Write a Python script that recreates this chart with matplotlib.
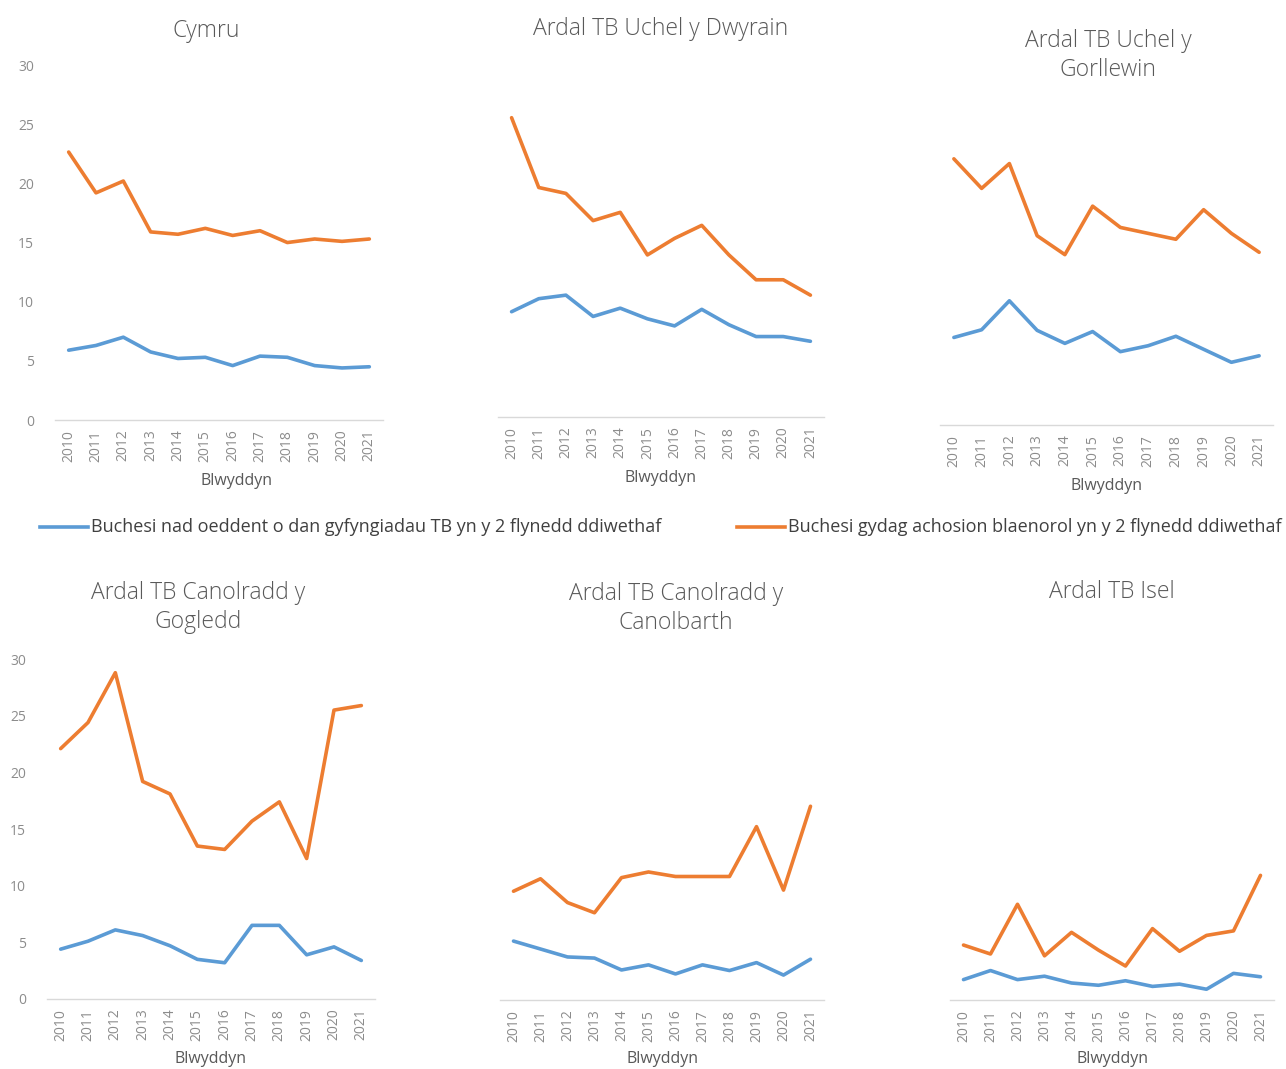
import matplotlib
matplotlib.use("Agg")
import matplotlib.pyplot as plt
from matplotlib.lines import Line2D

plt.rcParams["font.family"] = ["Open Sans", "DejaVu Sans"]

# ----------------------------------------------------------------------
# Data
# ----------------------------------------------------------------------
YEARS = [str(y) for y in range(2010, 2022)]

SERIES_BLUE = "Buchesi nad oeddent o dan gyfyngiadau TB yn y 2 flynedd ddiwethaf"
SERIES_ORANGE = "Buchesi gydag achosion blaenorol yn y 2 flynedd ddiwethaf"

TITLES = [
    "Cymru",
    "Ardal TB Uchel y Dwyrain",
    "Ardal TB Uchel y\nGorllewin",
    "Ardal TB Canolradd y\nGogledd",
    "Ardal TB Canolradd y\nCanolbarth",
    "Ardal TB Isel",
]

cymru_blue = [5.9, 6.3, 7.0, 5.75, 5.2, 5.3, 4.6, 5.4, 5.3, 4.6, 4.4, 4.5]
cymru_orange = [22.65, 19.2, 20.2, 15.9, 15.7, 16.2, 15.6, 16.0, 15.0, 15.3, 15.1, 15.3]

dwyrain_blue = [8.9, 10.0, 10.3, 8.5, 9.2, 8.3, 7.7, 9.1, 7.8, 6.8, 6.8, 6.4]
dwyrain_orange = [25.3, 19.4, 18.9, 16.6, 17.3, 13.7, 15.1, 16.2, 13.7, 11.6, 11.6, 10.3]

gorllewin_blue = [7.4, 8.05, 10.5, 8.0, 6.9, 7.9, 6.2, 6.7, 7.5, 6.4, 5.3, 5.85]
gorllewin_orange = [22.5, 20.0, 22.1, 16.0, 14.4, 18.5, 16.7, 16.2, 15.7, 18.2, 16.2, 14.6]

gogledd_blue = [4.4, 5.1, 6.1, 5.6, 4.7, 3.5, 3.2, 6.5, 6.5, 3.9, 4.6, 3.4]
gogledd_orange = [22.1, 24.4, 28.8, 19.2, 18.1, 13.5, 13.2, 15.7, 17.4, 12.4, 25.5, 25.9]

canolbarth_blue = [5.2, 4.5, 3.8, 3.7, 2.65, 3.1, 2.3, 3.1, 2.6, 3.3, 2.2, 3.6]
canolbarth_orange = [9.6, 10.7, 8.6, 7.7, 10.8, 11.3, 10.9, 10.9, 10.9, 15.3, 9.7, 17.1]

isel_blue = [1.8, 2.6, 1.8, 2.1, 1.5, 1.3, 1.7, 1.2, 1.4, 0.95, 2.35, 2.05]
isel_orange = [4.85, 4.06, 8.45, 3.9, 5.97, 4.4, 3.0, 6.3, 4.3, 5.7, 6.1, 11.0]

BLUE_DATA = [cymru_blue, dwyrain_blue, gorllewin_blue,
             gogledd_blue, canolbarth_blue, isel_blue]
ORANGE_DATA = [cymru_orange, dwyrain_orange, gorllewin_orange,
               gogledd_orange, canolbarth_orange, isel_orange]

Y_TICKS = [0, 5, 10, 15, 20, 25, 30]

# ----------------------------------------------------------------------
# Style / layout (pixels of the 1286 x 1069 canvas)
# ----------------------------------------------------------------------
W, H = 1286, 1069
COL_BLUE = "#5B9BD5"
COL_ORANGE = "#ED7D31"
COL_AXIS = "#D9D9D9"
COL_TICK = "#8C8C8C"
COL_TITLE = "#595959"
COL_LEGEND = "#404040"

# (axis-line left, axis-line right, axis-line y, px per unit, show y ticks)
PANELS = [
    (55, 383, 420, 11.83, True),
    (498, 824, 417, 11.83, False),
    (940, 1273, 425, 11.83, False),
    (47, 375, 999, 11.33, True),
    (500, 824, 1000, 11.33, False),
    (950, 1274, 1000, 11.33, False),
]
# title centre (x, y of first line's centre)
TITLE_POS = [(206, 30), (661, 28), (1108, 40), (198, 592), (676, 593), (1112, 591)]
# x-axis title centre
XLABEL_POS = [(236, 481), (661, 478), (1106, 486), (210, 1059), (662, 1059), (1112, 1059)]


def fx(px):
    return px / W


def fy(py):
    return 1 - py / H


fig = plt.figure(figsize=(W / 100, H / 100), dpi=100)

for i, (x0, x1, yb, scale, show_y) in enumerate(PANELS):
    top = yb - 30 * scale
    ax = fig.add_axes([fx(x0), fy(yb), (x1 - x0) / W, (yb - top) / H])
    ax.plot(range(len(YEARS)), BLUE_DATA[i], color=COL_BLUE, lw=2.6,
            solid_joinstyle="round", solid_capstyle="round")
    ax.plot(range(len(YEARS)), ORANGE_DATA[i], color=COL_ORANGE, lw=2.6,
            solid_joinstyle="round", solid_capstyle="round")
    ax.set_xlim(-0.5, len(YEARS) - 0.5)
    ax.set_ylim(0, 30)
    for s in ("top", "right", "left"):
        ax.spines[s].set_visible(False)
    ax.spines["bottom"].set_color(COL_AXIS)
    ax.spines["bottom"].set_linewidth(1.0)
    ax.set_xticks(range(len(YEARS)))
    ax.set_xticklabels(YEARS, rotation=90, fontsize=10, color=COL_TICK)
    ax.tick_params(axis="x", length=0, pad=7)
    if show_y:
        ax.set_yticks(Y_TICKS)
        ax.set_yticklabels([str(t) for t in Y_TICKS], fontsize=10, color=COL_TICK)
        ax.tick_params(axis="y", length=0, pad=15)
    else:
        ax.set_yticks([])
    ax.patch.set_visible(False)

    tx, ty = TITLE_POS[i]
    fig.text(fx(tx), fy(ty - 11), TITLES[i], ha="center", va="top",
             fontsize=16.5, fontweight="light", color=COL_TITLE, linespacing=1.3)
    lx, ly = XLABEL_POS[i]
    fig.text(fx(lx), fy(ly), "Blwyddyn", ha="center", va="center",
             fontsize=11.5, color=COL_TITLE)

# Legend row
leg_y = 527
fig.add_artist(Line2D([fx(40), fx(88)], [fy(leg_y), fy(leg_y)], color=COL_BLUE, lw=2.6))
fig.text(fx(91), fy(leg_y), SERIES_BLUE, ha="left", va="center",
         fontsize=13, color=COL_LEGEND)
fig.add_artist(Line2D([fx(737), fx(785)], [fy(leg_y), fy(leg_y)], color=COL_ORANGE, lw=2.6))
fig.text(fx(788), fy(leg_y), SERIES_ORANGE, ha="left", va="center",
         fontsize=13, color=COL_LEGEND)

fig.savefig("out.png", dpi=100)
